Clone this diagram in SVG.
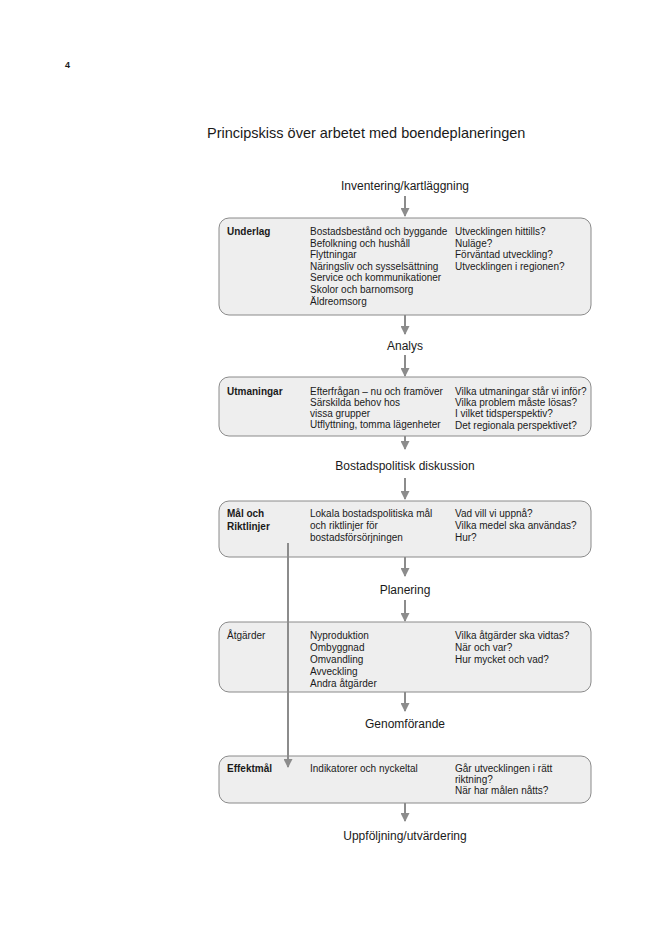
<svg xmlns="http://www.w3.org/2000/svg" width="660" height="950" viewBox="0 0 660 950">
<style>
text{font-family:"Liberation Sans",Arial,sans-serif;fill:#1a1a1a}
.b{font-size:10px}
.lbl{font-size:10px;font-weight:bold}
.h{font-size:12px;text-anchor:middle}
.box{fill:#eeeeee;stroke:#8a8a8a;stroke-width:1}
.ar{stroke:#8c8c8c;stroke-width:2;fill:none}
</style>
<defs>
<marker id="ah" viewBox="0 0 10 10" refX="9" refY="5" markerWidth="5" markerHeight="4.5" orient="auto" markerUnits="strokeWidth">
<path d="M0,0 L10,5 L0,10 z" fill="#8c8c8c"/>
</marker>
</defs>
<rect width="660" height="950" fill="#ffffff"/>
<text x="65" y="68" style="font-size:9px;font-weight:bold">4</text>
<text x="207" y="138" style="font-size:14.5px">Principskiss över arbetet med boendeplaneringen</text>

<g id="labels">
<text class="h" x="405" y="190">Inventering/kartläggning</text>
<text class="h" x="405" y="350">Analys</text>
<text class="h" x="405" y="470">Bostadspolitisk diskussion</text>
<text class="h" x="405" y="594">Planering</text>
<text class="h" x="405" y="728">Genomförande</text>
<text class="h" x="405" y="840">Uppföljning/utvärdering</text>
</g>

<g id="underlag">
<rect class="box" x="219" y="218" width="372" height="97" rx="10"/>
<text class="lbl" x="227" y="235">Underlag</text>
<text class="b" x="310" y="235">Bostadsbestånd och byggande</text>
<text class="b" x="310" y="246.6">Befolkning och hushåll</text>
<text class="b" x="310" y="258.2">Flyttningar</text>
<text class="b" x="310" y="269.8">Näringsliv och sysselsättning</text>
<text class="b" x="310" y="281.4">Service och kommunikationer</text>
<text class="b" x="310" y="293">Skolor och barnomsorg</text>
<text class="b" x="310" y="304.6">Äldreomsorg</text>
<text class="b" x="455" y="235">Utvecklingen hittills?</text>
<text class="b" x="455" y="246.6">Nuläge?</text>
<text class="b" x="455" y="258.2">Förväntad utveckling?</text>
<text class="b" x="455" y="269.8">Utvecklingen i regionen?</text>
</g>

<g id="utmaningar">
<rect class="box" x="219" y="377" width="372" height="59" rx="10"/>
<text class="lbl" x="227" y="395">Utmaningar</text>
<text class="b" x="310" y="395">Efterfrågan – nu och framöver</text>
<text class="b" x="310" y="406">Särskilda behov hos</text>
<text class="b" x="310" y="416.5">vissa grupper</text>
<text class="b" x="310" y="427.5">Utflyttning, tomma lägenheter</text>
<text class="b" x="455" y="395">Vilka utmaningar står vi inför?</text>
<text class="b" x="455" y="406">Vilka problem måste lösas?</text>
<text class="b" x="455" y="417">I vilket tidsperspektiv?</text>
<text class="b" x="455" y="428.5">Det regionala perspektivet?</text>
</g>

<g id="mal">
<rect class="box" x="219" y="501" width="372" height="56" rx="10"/>
<text class="lbl" x="227" y="517">Mål och</text>
<text class="lbl" x="227" y="530">Riktlinjer</text>
<text class="b" x="310" y="517">Lokala bostadspolitiska mål</text>
<text class="b" x="310" y="529">och riktlinjer för</text>
<text class="b" x="310" y="541">bostadsförsörjningen</text>
<text class="b" x="455" y="517">Vad vill vi uppnå?</text>
<text class="b" x="455" y="529">Vilka medel ska användas?</text>
<text class="b" x="455" y="541">Hur?</text>
</g>

<g id="atgarder">
<rect class="box" x="219" y="622" width="372" height="70" rx="10"/>
<text class="b" x="227" y="638.5">Åtgärder</text>
<text class="b" x="310" y="638.5">Nyproduktion</text>
<text class="b" x="310" y="650.5">Ombyggnad</text>
<text class="b" x="310" y="662.5">Omvandling</text>
<text class="b" x="310" y="674.5">Avveckling</text>
<text class="b" x="310" y="686.5">Andra åtgärder</text>
<text class="b" x="455" y="638.5">Vilka åtgärder ska vidtas?</text>
<text class="b" x="455" y="650.5">När och var?</text>
<text class="b" x="455" y="662.5">Hur mycket och vad?</text>
</g>

<g id="effektmal">
<rect class="box" x="219" y="756" width="372" height="47" rx="10"/>
<text class="lbl" x="227" y="772">Effektmål</text>
<text class="b" x="310" y="772">Indikatorer och nyckeltal</text>
<text class="b" x="455" y="772">Går utvecklingen i rätt</text>
<text class="b" x="455" y="783">riktning?</text>
<text class="b" x="455" y="794">När har målen nåtts?</text>
</g>

<g id="connectors">
<line class="ar" x1="405" y1="196" x2="405" y2="216" marker-end="url(#ah)"/>
<line class="ar" x1="405" y1="315" x2="405" y2="334" marker-end="url(#ah)"/>
<line class="ar" x1="405" y1="355" x2="405" y2="376" marker-end="url(#ah)"/>
<line class="ar" x1="405" y1="436" x2="405" y2="449" marker-end="url(#ah)"/>
<line class="ar" x1="405" y1="478" x2="405" y2="499" marker-end="url(#ah)"/>
<line class="ar" x1="405" y1="557" x2="405" y2="576" marker-end="url(#ah)"/>
<line class="ar" x1="405" y1="600" x2="405" y2="621" marker-end="url(#ah)"/>
<line class="ar" x1="405" y1="692" x2="405" y2="711" marker-end="url(#ah)"/>
<line class="ar" x1="405" y1="803" x2="405" y2="821" marker-end="url(#ah)"/>
<line class="ar" x1="288" y1="543" x2="288" y2="767" marker-end="url(#ah)"/>
</g>
</svg>
